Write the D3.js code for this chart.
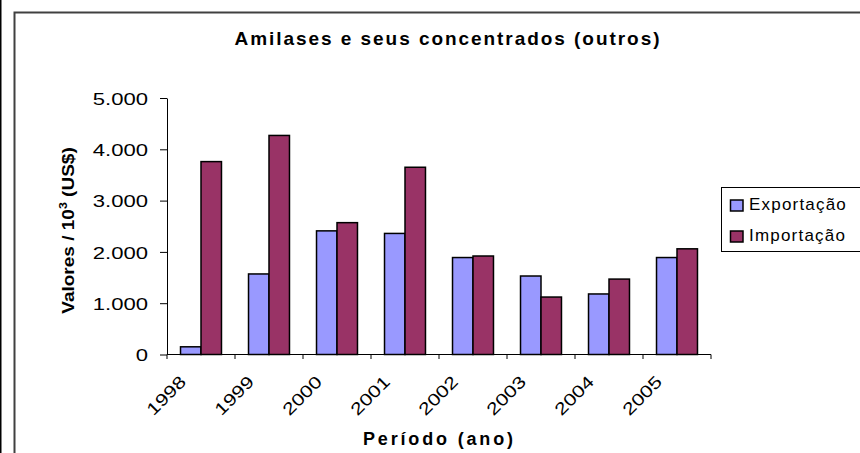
<!DOCTYPE html>
<html><head><meta charset="utf-8">
<script src="https://cdn.jsdelivr.net/npm/d3@7"></script>
<style>
html,body{margin:0;padding:0;background:#fff;}
svg text{font-family:"Liberation Sans",Arial,sans-serif;fill:#000;}
</style></head>
<body>
<svg id="c" width="860" height="453"></svg>
<script>
const years = ["1998","1999","2000","2001","2002","2003","2004","2005"];
const seriesNames = ["Exportação","Importação"];
const exportacao = [150, 1570, 2410, 2360, 1890, 1530, 1180, 1890];
const importacao = [3760, 4270, 2570, 3650, 1920, 1120, 1470, 2060];
const yTicks = [0, 1000, 2000, 3000, 4000, 5000];
const colors = ["#9999FF", "#993366"];

(function(){
const svg = d3.select("#c");
const W = 860, H = 453;
const pLeft = 167, pRight = 711, pTop = 98, pBottom = 354.5;

// outer frame
svg.append("line").attr("x1",0.5).attr("x2",0.5).attr("y1",0).attr("y2",H)
  .attr("stroke","#000").attr("stroke-width",2);
svg.append("rect").attr("x",14.5).attr("y",12.5).attr("width",W).attr("height",H)
  .attr("fill","none").attr("stroke","#404040").attr("stroke-width",2);

const x = d3.scaleBand().domain(years).range([pLeft, pRight]).padding(0);
const x1 = d3.scaleBand().domain(seriesNames).range([0, x.bandwidth()]).paddingInner(0).paddingOuter(0.66);
const y = d3.scaleLinear().domain([0, 5000]).range([pBottom, pTop]);
const fmt = v => d3.format(",")(v).replace(/,/g, ".");

// title
svg.append("text").attr("x", 447).attr("y", 44.5).attr("text-anchor","middle")
  .attr("font-size", 19).attr("font-weight","bold")
  .attr("textLength", 425).attr("lengthAdjust","spacing")
  .text("Amilases e seus concentrados (outros)");

// y axis
const yAxis = svg.append("g").attr("transform", `translate(${pLeft},0)`)
  .call(d3.axisLeft(y).tickValues(yTicks).tickFormat(fmt).tickSize(7).tickSizeOuter(0));
yAxis.select(".domain").attr("stroke","#000");
yAxis.selectAll(".tick line").attr("stroke","#000");
yAxis.selectAll(".tick text").attr("x", null).attr("dy","0.36em")
  .attr("font-size", 17).attr("font-family","Liberation Sans, Arial, sans-serif")
  .attr("transform","translate(-19,0) scale(1.3,1)");

// bars
const data = years.map((yr, i) => ({ yr, vals: [exportacao[i], importacao[i]] }));
const g = svg.append("g");
data.forEach(d => {
  d.vals.forEach((v, j) => {
    g.append("rect")
      .attr("x", x(d.yr) + x1(seriesNames[j]))
      .attr("y", y(v))
      .attr("width", x1.bandwidth())
      .attr("height", y(0) - y(v))
      .attr("fill", colors[j]).attr("stroke","#000").attr("stroke-width",1.5);
  });
});

// x axis
svg.append("line").attr("x1", pLeft).attr("x2", pRight).attr("y1", y(0)).attr("y2", y(0))
  .attr("stroke","#000");
const bounds = years.map(yr => x(yr)).concat([pRight]);
svg.selectAll(".xt").data(bounds).enter().append("line")
  .attr("x1", d => d).attr("x2", d => d).attr("y1", y(0)).attr("y2", y(0) + 4.5)
  .attr("stroke","#000");
svg.selectAll(".xl").data(years).enter().append("text")
  .attr("text-anchor","end").attr("font-size",17)
  .attr("transform", d => `translate(${x(d) + x.bandwidth()/2 - 14},383) rotate(-45) scale(1.25,1)`)
  .text(d => d);

// axis titles
svg.append("text").attr("text-anchor","middle").attr("font-size",18).attr("font-weight","bold")
  .attr("x", 438).attr("y", 445)
  .attr("textLength", 150).attr("lengthAdjust","spacing")
  .text("Período (ano)");
const yt = svg.append("text").attr("text-anchor","middle").attr("font-size",17).attr("font-weight","bold")
  .attr("transform", `translate(74,230.5) rotate(-90) scale(1.12,1)`);
yt.append("tspan").text("Valores / 10");
yt.append("tspan").attr("font-size",11).attr("dy",-7).text("3");
yt.append("tspan").attr("dy",7).text(" (US$)");

// legend
const lg = svg.append("g");
lg.append("rect").attr("x",721.5).attr("y",187.5).attr("width",200).attr("height",64)
  .attr("fill","#fff").attr("stroke","#000").attr("stroke-width",1);
seriesNames.forEach((s, i) => {
  lg.append("rect").attr("x",730.5).attr("y",200 + i*31).attr("width",12.5).attr("height",11)
    .attr("fill",colors[i]).attr("stroke","#000").attr("stroke-width",1.5);
  lg.append("text").attr("font-size",17).attr("letter-spacing", 1.2)
    .attr("x", 749).attr("y", 210 + i*31).text(s);
});
})();
</script>
</body></html>
